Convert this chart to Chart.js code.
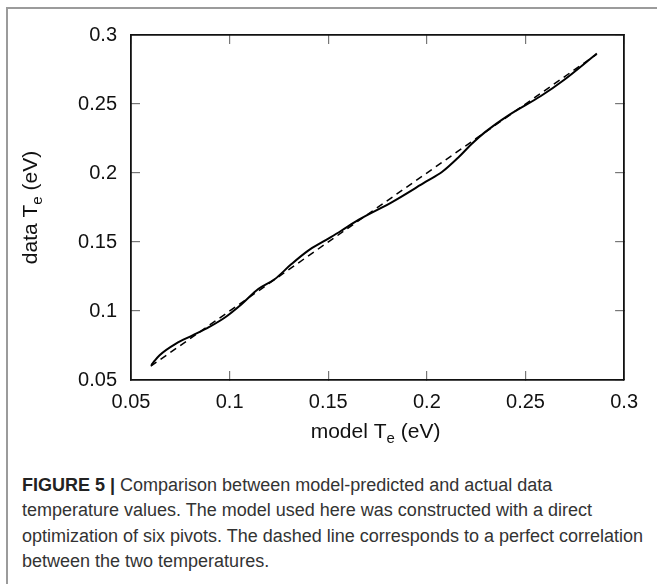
<!DOCTYPE html>
<html lang="en">
<head>
    <meta charset="UTF-8">
    <title>Figure 5 - model vs data Te</title>
    <script src="https://cdn.jsdelivr.net/npm/chart.js"></script>
    <style>
        body { margin: 0; background: #fff; font-family: "Liberation Sans", Arial, sans-serif; }
        #frame {
            position: absolute; left: 6px; top: 7px;
            width: 700px; height: 700px;
            border: 2px solid #9b9b9b;
        }
        #wrap { position: absolute; left: 0; top: 0; }
        #caption {
            position: absolute; left: 22px; top: 473px; width: 635px;
            font-size: 18px; line-height: 25.3px; color: #333; white-space: nowrap;
        }
        #caption b { color: #222; }
    </style>
</head>
<body>
    <div id="frame"></div>
    <div id="wrap"><canvas id="plot" width="657" height="460"></canvas></div>
    <div id="caption">
        <b>FIGURE 5 |</b> Comparison between model-predicted and actual data<br>
        temperature values. The model used here was constructed with a direct<br>
        optimization of six pivots. The dashed line corresponds to a perfect correlation<br>
        between the two temperatures.
    </div>

    <script>
        // model Te (x) vs data Te (y)
        let modelTe = [0.0603, 0.062, 0.0645, 0.0728, 0.0812, 0.0895, 0.0978, 0.1062, 0.1145, 0.1228,
                       0.1312, 0.1395, 0.1478, 0.1562, 0.1655, 0.1828, 0.1995, 0.2078, 0.2162, 0.2228,
                       0.2295, 0.2412, 0.2578, 0.2695, 0.2862];
        let dataTe = [0.0608, 0.064, 0.068, 0.0764, 0.0823, 0.0883, 0.0955, 0.1051, 0.1159, 0.123,
                      0.1338, 0.1434, 0.1506, 0.1578, 0.1662, 0.1793, 0.1937, 0.2009, 0.2116, 0.2212,
                      0.2296, 0.2416, 0.2558, 0.2674, 0.2866];
        // perfect correlation line
        let idealX = [0.06, 0.286];
        let idealY = [0.06, 0.286];
        let tickVals = [0.05, 0.1, 0.15, 0.2, 0.25, 0.3];

        let curve = modelTe.map((x, i) => ({ x: x, y: dataTe[i] }));
        let ideal = idealX.map((x, i) => ({ x: x, y: idealY[i] }));

        let fontName = '"Liberation Sans", Arial, sans-serif';

        // axis titles with subscript e
        function drawSubTitle(ctx, before, sub, after, cx, cy) {
            ctx.font = '21px ' + fontName;
            let w1 = ctx.measureText(before).width;
            let w3 = ctx.measureText(after).width;
            ctx.font = '15px ' + fontName;
            let w2 = ctx.measureText(sub).width;
            let x = cx - (w1 + w2 + w3) / 2;
            ctx.textBaseline = 'middle';
            ctx.textAlign = 'left';
            ctx.fillStyle = '#111';
            ctx.font = '21px ' + fontName;
            ctx.fillText(before, x, cy);
            ctx.font = '15px ' + fontName;
            ctx.fillText(sub, x + w1, cy + 7);
            ctx.font = '21px ' + fontName;
            ctx.fillText(after, x + w1 + w2, cy);
        }

        let titlePlugin = {
            id: 'titles',
            afterDraw(chart) {
                let ctx = chart.ctx;
                let a = chart.chartArea;
                ctx.save();
                drawSubTitle(ctx, 'model T', 'e', ' (eV)', (a.left + a.right) / 2 - 2, 432);
                ctx.translate(31, (a.top + a.bottom) / 2);
                ctx.rotate(-Math.PI / 2);
                drawSubTitle(ctx, 'data T', 'e', ' (eV)', 0, 0);
                ctx.restore();
            }
        };

        function fmt(v) { return String(+v.toFixed(2)); }

        let tickGrid = { drawOnChartArea: false, tickLength: -9, color: '#777', lineWidth: 1.2 };
        let axisBorder = { color: '#111', width: 1.8 };

        new Chart(document.getElementById('plot').getContext('2d'), {
            type: 'line',
            data: {
                datasets: [{
                    data: curve,
                    borderColor: '#000',
                    borderWidth: 2,
                    pointRadius: 0,
                    cubicInterpolationMode: 'monotone',
                    fill: false
                }, {
                    data: ideal,
                    borderColor: '#000',
                    borderWidth: 1.5,
                    borderDash: [7, 5],
                    pointRadius: 0,
                    fill: false
                }]
            },
            options: {
                responsive: false,
                animation: false,
                devicePixelRatio: 1,
                layout: { padding: { top: 32, right: 26, left: 0, bottom: 0 } },
                plugins: { legend: { display: false }, tooltip: { enabled: false } },
                scales: {
                    x: {
                        type: 'linear', position: 'bottom', min: 0.05, max: 0.3,
                        afterBuildTicks: s => { s.ticks = tickVals.map(v => ({ value: v })); },
                        ticks: { callback: fmt, color: '#111', padding: 19, maxRotation: 0,
                                 font: { family: fontName, size: 20 } },
                        grid: tickGrid, border: axisBorder,
                        afterFit: s => { s.height = 80; }
                    },
                    x2: {
                        type: 'linear', position: 'top', min: 0.05, max: 0.3,
                        afterBuildTicks: s => { s.ticks = tickVals.map(v => ({ value: v })); },
                        ticks: { display: false },
                        grid: tickGrid, border: axisBorder,
                        afterFit: s => { s.height = 0; }
                    },
                    y: {
                        type: 'linear', position: 'left', min: 0.05, max: 0.3,
                        afterBuildTicks: s => { s.ticks = tickVals.map(v => ({ value: v })); },
                        ticks: { callback: fmt, color: '#111', padding: 23,
                                 font: { family: fontName, size: 20 } },
                        grid: tickGrid, border: axisBorder,
                        afterFit: s => { s.width = 131; }
                    },
                    y2: {
                        type: 'linear', position: 'right', min: 0.05, max: 0.3,
                        afterBuildTicks: s => { s.ticks = tickVals.map(v => ({ value: v })); },
                        ticks: { display: false },
                        grid: tickGrid, border: axisBorder,
                        afterFit: s => { s.width = 0; }
                    }
                }
            },
            plugins: [titlePlugin]
        });
    </script>
</body>
</html>
